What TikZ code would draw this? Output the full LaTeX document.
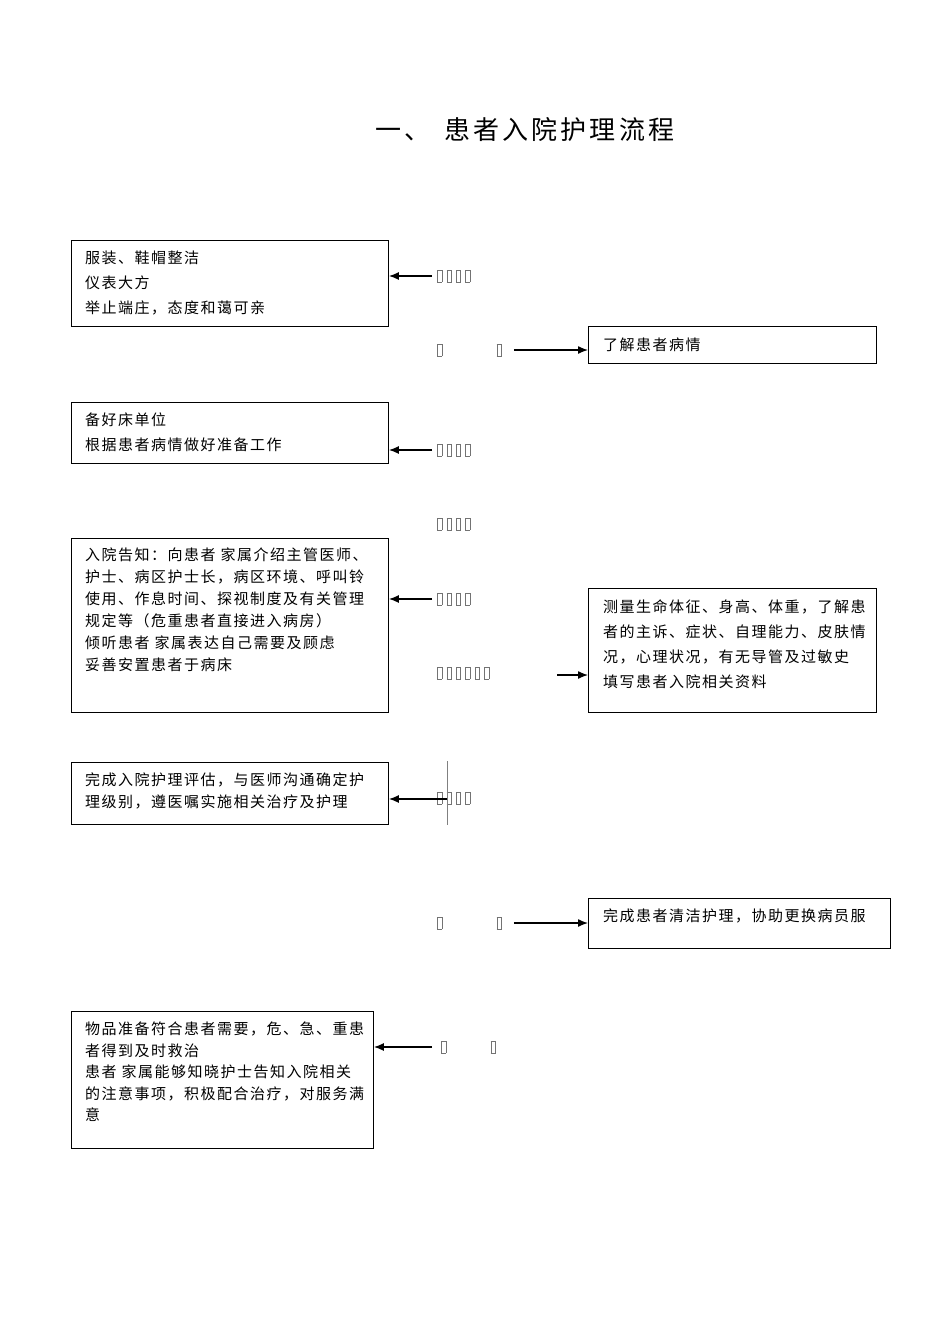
\documentclass[tikz,border=0pt]{standalone}
\usepackage{fontspec}
\newfontfamily\cjk[LetterSpace=10]{Noto Sans CJK SC}
\usetikzlibrary{arrows.meta}
\newcommand{\tofu}{{\color{gray!90!black}\fboxsep=0pt\fboxrule=0.7pt\fbox{\rule{0pt}{11.5pt}\hspace{3.6pt}}}\hspace{4.4pt}}
\begin{document}
\begin{tikzpicture}[x=1pt,y=-1pt,
    box/.style={draw, line width=0.9pt, inner sep=0pt, anchor=north west},
    txt/.style={anchor=north west, align=left, inner sep=0pt, font=\cjk\fontsize{15}{25}\selectfont},
    lbl/.style={anchor=west, inner sep=0pt},
    arr/.style={-{Latex[length=10pt,width=8pt]}, line width=1.3pt}]
        \useasboundingbox (0,0) rectangle (950,1344);

        % title
        \node[anchor=west, inner sep=0pt, font=\cjk\fontsize{26}{30}\selectfont\addfontfeatures{LetterSpace=12}] (title) at (375,130) {一、\hspace{14pt}患者入院护理流程};

        % left boxes
        \node[box, minimum width=317pt, minimum height=86pt] (b1) at (71,240) {};
        \node[box, minimum width=317pt, minimum height=61pt] (b3) at (71,402) {};
        \node[box, minimum width=317pt, minimum height=174pt] (b4) at (71,538) {};
        \node[box, minimum width=317pt, minimum height=62pt] (b6) at (71,762) {};
        \node[box, minimum width=302pt, minimum height=137pt] (b8) at (71,1011) {};

        % right boxes
        \node[box, minimum width=288pt, minimum height=37pt] (b2) at (588,326) {};
        \node[box, minimum width=288pt, minimum height=124pt] (b5) at (588,588) {};
        \node[box, minimum width=302pt, minimum height=50pt] (b7) at (588,898) {};

        % box texts
        \node[txt] (t1) at (85,251) {服装、鞋帽整洁\\仪表大方\\举止端庄，态度和蔼可亲};
        \node[txt] (t2) at (603,338) {了解患者病情};
        \node[txt] (t3) at (85,413) {备好床单位\\根据患者病情做好准备工作};
        \node[txt, font=\cjk\fontsize{15}{22}\selectfont] (t4) at (85,548) {入院告知：向患者 家属介绍主管医师、\\护士、病区护士长，病区环境、呼叫铃\\使用、作息时间、探视制度及有关管理\\规定等（危重患者直接进入病房）\\倾听患者 家属表达自己需要及顾虑\\妥善安置患者于病床};
        \node[txt] (t5) at (603,600) {测量生命体征、身高、体重，了解患\\者的主诉、症状、自理能力、皮肤情\\况，心理状况，有无导管及过敏史\\填写患者入院相关资料};
        \node[txt, font=\cjk\fontsize{15}{22}\selectfont] (t6) at (85,773) {完成入院护理评估，与医师沟通确定护\\理级别，遵医嘱实施相关治疗及护理};
        \node[txt] (t7) at (603,909) {完成患者清洁护理，协助更换病员服};
        \node[txt, font=\cjk\fontsize{15}{21.5}\selectfont] (t8) at (85,1022) {物品准备符合患者需要，危、急、重患\\者得到及时救治\\患者 家属能够知晓护士告知入院相关\\的注意事项，积极配合治疗，对服务满\\意};

        % middle labels
        \node[lbl] (l1) at (437,276) {\tofu\tofu\tofu\tofu};
        \node[lbl] (l2) at (437,350) {\tofu\hspace{50pt}\tofu};
        \node[lbl] (l3) at (437,450) {\tofu\tofu\tofu\tofu};
        \node[lbl] (l4) at (437,524) {\tofu\tofu\tofu\tofu};
        \node[lbl] (l5) at (437,599) {\tofu\tofu\tofu\tofu};
        \node[lbl] (l6) at (437,673) {\tofu\tofu\tofu\tofu\tofu\tofu};
        \node[lbl] (l7) at (437,798) {\tofu\tofu\tofu\tofu};
        \node[lbl] (l8) at (437,923) {\tofu\hspace{50pt}\tofu};
        \node[lbl] (l9) at (441,1047) {\tofu\hspace{40pt}\tofu};

        % vertical line
        \coordinate (v1) at (447,761);
        \coordinate (v2) at (447,825);
        \draw[gray, line width=0.7pt] (v1) -- (v2);

        % arrows to the left
        \draw[arr] ([xshift=-5pt]l1.west) -- (l1.west -| b1.east);
        \draw[arr] ([xshift=-5pt]l3.west) -- (l3.west -| b3.east);
        \draw[arr] ([xshift=-5pt]l5.west) -- (l5.west -| b4.east);
        \draw[arr] ([yshift=-1pt]l7.west -| v1) -- ([yshift=-1pt]l7.west -| b6.east);
        \draw[arr] ([xshift=-9pt]l9.west) -- (l9.west -| b8.east);

        % arrows to the right
        \draw[arr] ([xshift=12pt]l2.east) -- (l2.east -| b2.west);
        \draw[arr] ([xshift=68pt,yshift=-2pt]l6.east) -- ([yshift=-2pt]l6.east -| b5.west);
        \draw[arr] ([xshift=12pt]l8.east) -- (l8.east -| b7.west);

\end{tikzpicture}
\end{document}
